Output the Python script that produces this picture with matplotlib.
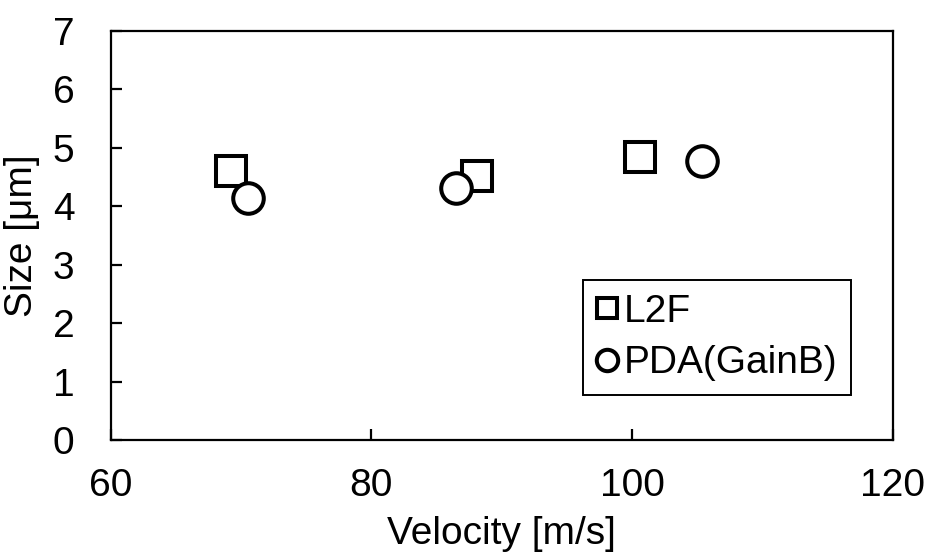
import matplotlib
matplotlib.use("Agg")
import matplotlib.pyplot as plt

plt.rcParams['font.family'] = ['Liberation Sans', 'DejaVu Sans']

# L2F
vel_l2f = [69.2, 88.1, 100.6]
size_l2f = [4.61, 4.52, 4.84]
# PDA (GainB)
vel_pda = [70.5, 86.5, 105.4]
size_pda = [4.15, 4.31, 4.78]

fig = plt.figure(figsize=(9.25, 5.56), dpi=100)
ax = fig.add_axes([110.7/925, 116/556, 782/925, 409/556])

ax.plot(vel_l2f, size_l2f, ls='none', marker='s', ms=21, mfc='white',
        mec='black', mew=2.9, label='L2F')
ax.plot(vel_pda, size_pda, ls='none', marker='o', ms=22, mfc='white',
        mec='black', mew=2.9, label='PDA(GainB)')

ax.set_xlim(60, 120)
ax.set_ylim(0, 7)
ax.set_xticks([60, 80, 100, 120])
ax.set_yticks(range(0, 8))
ax.tick_params(direction='in', length=8, width=1.6, labelsize=28)
ax.tick_params(axis='x', pad=20)
ax.tick_params(axis='y', pad=26)
for s in ax.spines.values():
    s.set_linewidth(1.6)

ax.set_xlabel('Velocity [m/s]', fontsize=28, labelpad=9)
ax.set_ylabel('Size [μm]', fontsize=28, labelpad=9)

leg = ax.legend(loc='upper left', bbox_to_anchor=(583/925, (556-280)/556),
                bbox_transform=fig.transFigure, fontsize=28, markerscale=0.7,
                handlelength=0.55, handletextpad=0.15, borderpad=0.35,
                labelspacing=0.4, fancybox=False, edgecolor='black',
                framealpha=1, borderaxespad=0)
leg.get_frame().set_linewidth(1.4)

fig.savefig('out.png', dpi=100)
